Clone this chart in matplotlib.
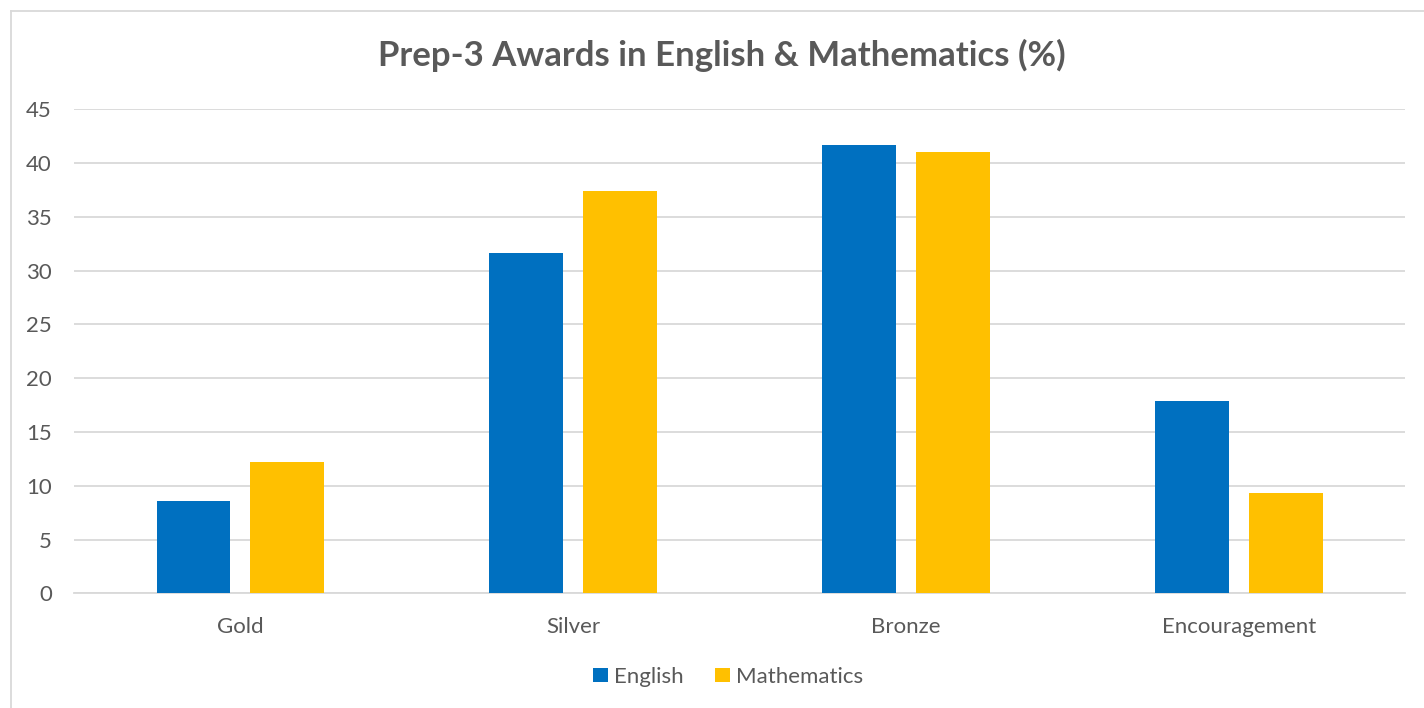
import matplotlib
matplotlib.use("Agg")
import matplotlib.pyplot as plt
import numpy as np
from matplotlib.lines import Line2D

categories = ["Gold", "Silver", "Bronze", "Encouragement"]
english = [8.6, 31.6, 41.7, 17.9]
mathematics = [12.2, 37.4, 41.0, 9.3]
yticks = [0, 5, 10, 15, 20, 25, 30, 35, 40, 45]
title = "Prep-3 Awards in English & Mathematics (%)"

plt.rcParams['font.family'] = ['Lato', 'DejaVu Sans']
TXT = '#595959'
BLUE = '#0070C0'
GOLD = '#FFC000'
GRID = '#D9D9D9'

fig = plt.figure(figsize=(14.24, 7.08), dpi=100)
# chart-area border: only top and left edges visible
fig.lines.append(Line2D([10.5 / 1424, 1.0], [1 - 10.5 / 708, 1 - 10.5 / 708],
                        transform=fig.transFigure, color='#D9D9D9', linewidth=1.3))
fig.lines.append(Line2D([10.5 / 1424, 10.5 / 1424], [0.0, 1 - 10.5 / 708],
                        transform=fig.transFigure, color='#D9D9D9', linewidth=1.3))

ax = fig.add_axes([0.052, 0.162, 0.9347, 0.6836])

x = np.arange(len(categories))
w = 0.222
off = 0.141
ax.bar(x - off, english, width=w, color=BLUE, label="English", zorder=3)
ax.bar(x + off, mathematics, width=w, color=GOLD, label="Mathematics", zorder=3)

ax.set_xlim(-0.5, len(categories) - 0.5)
ax.set_ylim(0, 45)
ax.set_yticks(yticks)
ax.set_xticks(x)
ax.set_xticklabels(categories)
ax.yaxis.grid(True, color=GRID, linewidth=1.3, zorder=0)
ax.set_axisbelow(True)
for s in ['top', 'right', 'left']:
    ax.spines[s].set_visible(False)
ax.spines['bottom'].set_color(GRID)
ax.spines['bottom'].set_linewidth(1.3)
ax.tick_params(axis='both', length=0, labelsize=16, colors=TXT)
ax.tick_params(axis='x', pad=17)
ax.tick_params(axis='y', pad=16)

fig.text(0.5067, 0.921, title, ha='center', va='center', fontsize=25,
         fontweight='bold', color=TXT)

leg = fig.legend(loc='center', bbox_to_anchor=(0.5115, 0.044), ncol=2, frameon=False,
                 fontsize=16, handlelength=0.65, handleheight=0.65,
                 handletextpad=0.3, columnspacing=1.4)
for t in leg.get_texts():
    t.set_color(TXT)

fig.savefig("out.png", dpi=100)
